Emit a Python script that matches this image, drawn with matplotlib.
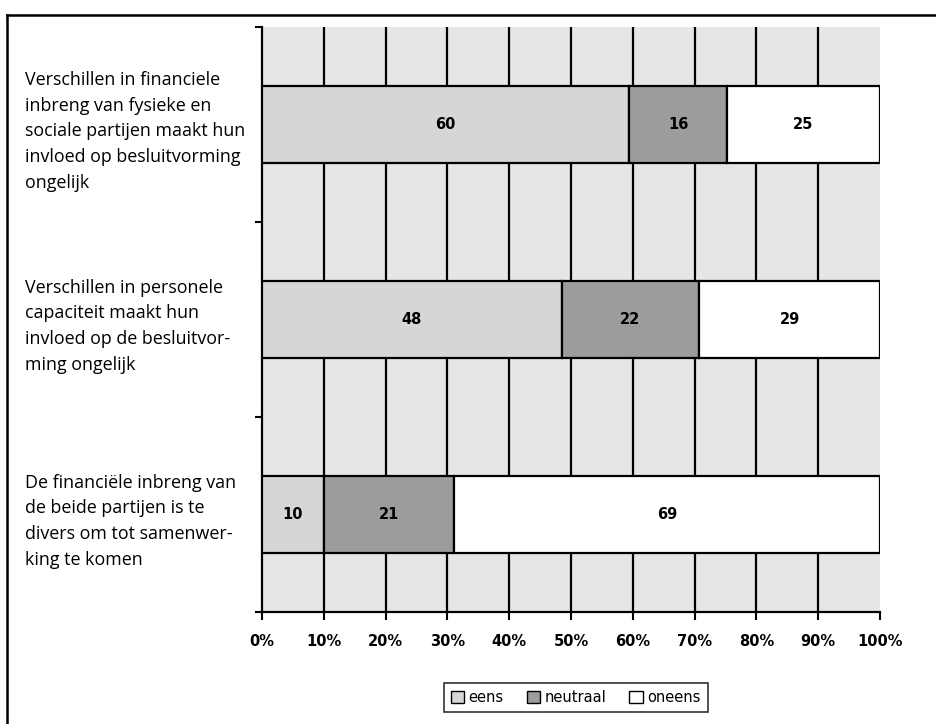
import matplotlib
matplotlib.use("Agg")
import matplotlib.pyplot as plt
from matplotlib.lines import Line2D
from matplotlib.patches import Patch
import numpy as np

# Survey statements and answer counts (percent of respondents)
statements = [
    "Verschillen in financiele\ninbreng van fysieke en\nsociale partijen maakt hun\ninvloed op besluitvorming\nongelijk",
    "Verschillen in personele\ncapaciteit maakt hun\ninvloed op de besluitvor-\nming ongelijk",
    "De financiële inbreng van\nde beide partijen is te\ndivers om tot samenwer-\nking te komen",
]
series_names = ["eens", "neutraal", "oneens"]
eens = [60, 48, 10]
neutraal = [16, 22, 21]
oneens = [25, 29, 69]
x_ticks = [0, 10, 20, 30, 40, 50, 60, 70, 80, 90, 100]
x_tick_labels = ["0%", "10%", "20%", "30%", "40%", "50%", "60%", "70%", "80%", "90%", "100%"]

colors = ["#d6d6d6", "#9c9c9c", "#ffffff"]
plot_bg = "#e6e6e6"

fig = plt.figure(figsize=(9.36, 7.24), dpi=100)
fig.patch.set_facecolor("white")
ax = fig.add_axes([0.2799, 0.1547, 0.6603, 0.808])
ax.set_facecolor(plot_bg)

values = np.array([eens, neutraal, oneens], dtype=float)
totals = values.sum(axis=0)
shares = values / totals * 100.0  # 100% stacked
y = np.arange(len(statements))

left = np.zeros(len(statements))
for i, name in enumerate(series_names):
    ax.barh(y, shares[i], left=left, height=0.39, color=colors[i],
            edgecolor="black", linewidth=1.6, zorder=3, label=name)
    for j in range(len(statements)):
        ax.text(left[j] + shares[i][j] / 2, y[j], f"{int(values[i][j])}",
                ha="center", va="center", fontsize=10.5, fontweight="bold",
                family="DejaVu Sans", zorder=4)
    left += shares[i]

ax.set_xlim(0, 100)
ax.set_ylim(len(statements) - 0.5, -0.5)

# vertical grid lines
for t in x_ticks[1:-1]:
    ax.axvline(t, color="black", linewidth=1.6, zorder=1)

ax.set_xticks(x_ticks)
ax.set_xticklabels(x_tick_labels, fontsize=10.5, fontweight="bold", family="DejaVu Sans")
ax.set_yticks(np.arange(len(statements) + 1) - 0.5)
ax.set_yticklabels([])
ax.tick_params(axis="x", direction="out", length=6, width=1.5, pad=10)
ax.tick_params(axis="y", direction="out", length=5, width=1.5)
for s in ["top", "right"]:
    ax.spines[s].set_visible(False)
for s in ["left", "bottom"]:
    ax.spines[s].set_linewidth(1.6)

# statement labels on the left
for j, txt in enumerate(statements):
    ax.text(-0.383, y[j] + 0.035, txt, transform=ax.get_yaxis_transform(),
            ha="left", va="center", fontsize=12.9, family="Open Sans",
            linespacing=1.55)

handles = [Patch(facecolor=colors[i], edgecolor="black", linewidth=1.0, label=n)
           for i, n in enumerate(series_names)]
leg = fig.legend(handles=handles, loc="upper center", bbox_to_anchor=(0.615, 0.057),
                 ncol=3, frameon=True, fancybox=False, edgecolor="black",
                 fontsize=10.5, handlelength=0.9, handleheight=0.9,
                 handletextpad=0.3, columnspacing=1.6, borderpad=0.5,
                 borderaxespad=0)
leg.get_frame().set_linewidth(1.2)

# outer frame (top and left edges)
fig.add_artist(Line2D([7 / 936, 1.0], [1 - 15 / 724, 1 - 15 / 724],
                      transform=fig.transFigure, color="black", linewidth=1.8))
fig.add_artist(Line2D([7 / 936, 7 / 936], [0, 1 - 15 / 724],
                      transform=fig.transFigure, color="black", linewidth=1.8))

fig.savefig("out.png", dpi=100)
